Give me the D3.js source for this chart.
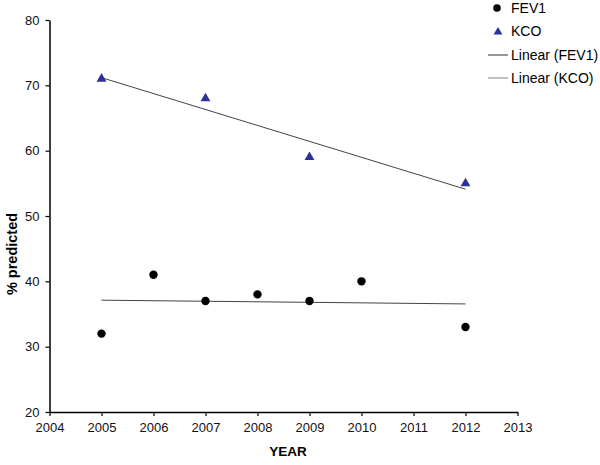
<!DOCTYPE html>
<html>
<head>
<meta charset="utf-8">
<script src="https://cdn.jsdelivr.net/npm/d3@7"></script>
<style>
  body { margin: 0; background: #fff; }
  text { font-family: "Liberation Sans", Arial, sans-serif; }
</style>
</head>
<body>
<div id="chart"></div>
<script>
var width = 600;
var height = 465;

var fevYears = [2005, 2006, 2007, 2008, 2009, 2010, 2012];
var fevValues = [32, 41, 37, 38, 37, 40, 33];
var kcoYears = [2005, 2007, 2009, 2012];
var kcoValues = [71, 68, 59, 55];
var xTicks = [2004, 2005, 2006, 2007, 2008, 2009, 2010, 2011, 2012, 2013];
var yTicks = [20, 30, 40, 50, 60, 70, 80];

var svg = d3
  .select("#chart")
  .append("svg")
  .attr("width", width)
  .attr("height", height);

var x = d3.scaleLinear().domain([2004, 2013]).range([49.5, 517.5]);
var y = d3.scaleLinear().domain([20, 80]).range([412, 20]);

// least squares fit, drawn over the span of the data
function fit(xs, ys) {
  var mx = d3.mean(xs), my = d3.mean(ys);
  var sxy = d3.sum(xs, function(v, i) { return (v - mx) * (ys[i] - my); });
  var sxx = d3.sum(xs, function(v) { return (v - mx) * (v - mx); });
  var b = sxy / sxx;
  var x0 = d3.min(xs), x1 = d3.max(xs);
  return [[x0, my + b * (x0 - mx)], [x1, my + b * (x1 - mx)]];
}

var line = d3.line()
  .x(function(d) { return x(d[0]); })
  .y(function(d) { return y(d[1]); });

// axes
var xAxis = svg.append("g")
  .attr("transform", "translate(0," + y(20) + ")")
  .call(d3.axisBottom(x).tickValues(xTicks).tickFormat(d3.format("d")).tickSizeInner(4).tickSizeOuter(0).tickPadding(7));
var yAxis = svg.append("g")
  .attr("transform", "translate(" + x(2004) + ",0)")
  .call(d3.axisLeft(y).tickValues(yTicks).tickSizeInner(4).tickSizeOuter(0).tickPadding(6));

[xAxis, yAxis].forEach(function(a) {
  a.select(".domain").attr("stroke", "#000").attr("stroke-width", 1.5);
  a.selectAll(".tick line").attr("stroke", "#000").attr("stroke-width", 1.2);
  a.selectAll(".tick text").attr("font-size", 13).attr("fill", "#111")
    .style("font-family", "'Liberation Sans', Arial, sans-serif");
});

svg.append("text")
  .attr("x", 288)
  .attr("y", 456)
  .attr("text-anchor", "middle")
  .attr("font-size", 13.5)
  .attr("font-weight", "bold")
  .text("YEAR");

svg.append("text")
  .attr("transform", "translate(17,254) rotate(-90)")
  .attr("text-anchor", "middle")
  .attr("font-size", 14.5)
  .attr("font-weight", "bold")
  .text("% predicted");

// trend lines
svg.append("path")
  .attr("d", line(fit(fevYears, fevValues)))
  .attr("fill", "none")
  .attr("stroke", "#444")
  .attr("stroke-width", 1);
svg.append("path")
  .attr("d", line(fit(kcoYears, kcoValues)))
  .attr("fill", "none")
  .attr("stroke", "#444")
  .attr("stroke-width", 1);

// points
svg.selectAll(".fev")
  .data(fevYears)
  .enter()
  .append("circle")
  .attr("class", "fev")
  .attr("cx", function(d) { return x(d); })
  .attr("cy", function(d, i) { return y(fevValues[i]); })
  .attr("r", 4.2)
  .attr("fill", "#000");

var tri = d3.symbol().type(d3.symbolTriangle).size(42);
svg.selectAll(".kco")
  .data(kcoYears)
  .enter()
  .append("path")
  .attr("class", "kco")
  .attr("d", tri)
  .attr("transform", function(d, i) { return "translate(" + x(d) + "," + y(kcoValues[i]) + ")"; })
  .attr("fill", "#2f2f9c");

// legend
var legend = svg.append("g").attr("font-size", 14);
legend.append("circle").attr("cx", 497).attr("cy", 8).attr("r", 3.8).attr("fill", "#000");
legend.append("text").attr("x", 511).attr("y", 13).text("FEV1");
legend.append("path").attr("d", d3.symbol().type(d3.symbolTriangle).size(34))
  .attr("transform", "translate(498,32)").attr("fill", "#2f2f9c");
legend.append("text").attr("x", 511).attr("y", 36).text("KCO");
legend.append("line").attr("x1", 488).attr("x2", 508).attr("y1", 55).attr("y2", 55)
  .attr("stroke", "#333").attr("stroke-width", 1);
legend.append("text").attr("x", 511).attr("y", 60).text("Linear (FEV1)");
legend.append("line").attr("x1", 488).attr("x2", 508).attr("y1", 78).attr("y2", 78)
  .attr("stroke", "#aaa").attr("stroke-width", 1.5);
legend.append("text").attr("x", 511).attr("y", 83).text("Linear (KCO)");
</script>
</body>
</html>
